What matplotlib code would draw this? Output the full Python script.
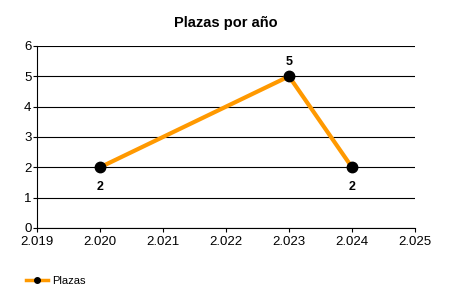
import matplotlib.pyplot as plt
from matplotlib.ticker import FuncFormatter

plt.rcParams['font.family'] = ['Liberation Sans', 'DejaVu Sans']

years = [2020, 2023, 2024]
plazas = [2, 5, 2]
label_pos = ['below', 'above', 'below']

fig = plt.figure(figsize=(4.5, 3), dpi=100)
ax = fig.add_axes([0.0822, 0.24, 0.84, 0.6067])

ax.plot(years, plazas, color='#FF9900', linewidth=3, marker='o',
        markersize=7.5, markerfacecolor='black', markeredgecolor='black',
        label='Plazas', zorder=3)

for x, y, p in zip(years, plazas, label_pos):
    off = 10 if p == 'above' else -14
    ax.annotate(str(y), (x, y), xytext=(0, off), textcoords='offset points',
                ha='center', va='center', fontsize=9, fontweight='bold')

ax.set_xlim(2019, 2025)
ax.set_ylim(0, 6)
ax.set_xticks(range(2019, 2026))
ax.set_yticks(range(0, 7))
ax.xaxis.set_major_formatter(FuncFormatter(lambda v, pos: f'{int(v):,}'.replace(',', '.')))
ax.yaxis.grid(True, color='black', linewidth=0.8)
ax.set_axisbelow(True)
for s in ['top', 'right']:
    ax.spines[s].set_visible(False)
ax.tick_params(labelsize=9.5, length=3, width=0.8, pad=1)
ax.tick_params(axis='x', pad=2.5)

ax.set_title('Plazas por año', fontsize=10.5, fontweight='bold', pad=14)

leg = fig.legend(loc='lower left', bbox_to_anchor=(0.035, 0.015), frameon=False,
                 fontsize=8, handlelength=2.0, handletextpad=0.4)
leg.legend_handles[0].set_markersize(4)
leg.legend_handles[0].set_linewidth(2.5)

fig.savefig('out.png')
